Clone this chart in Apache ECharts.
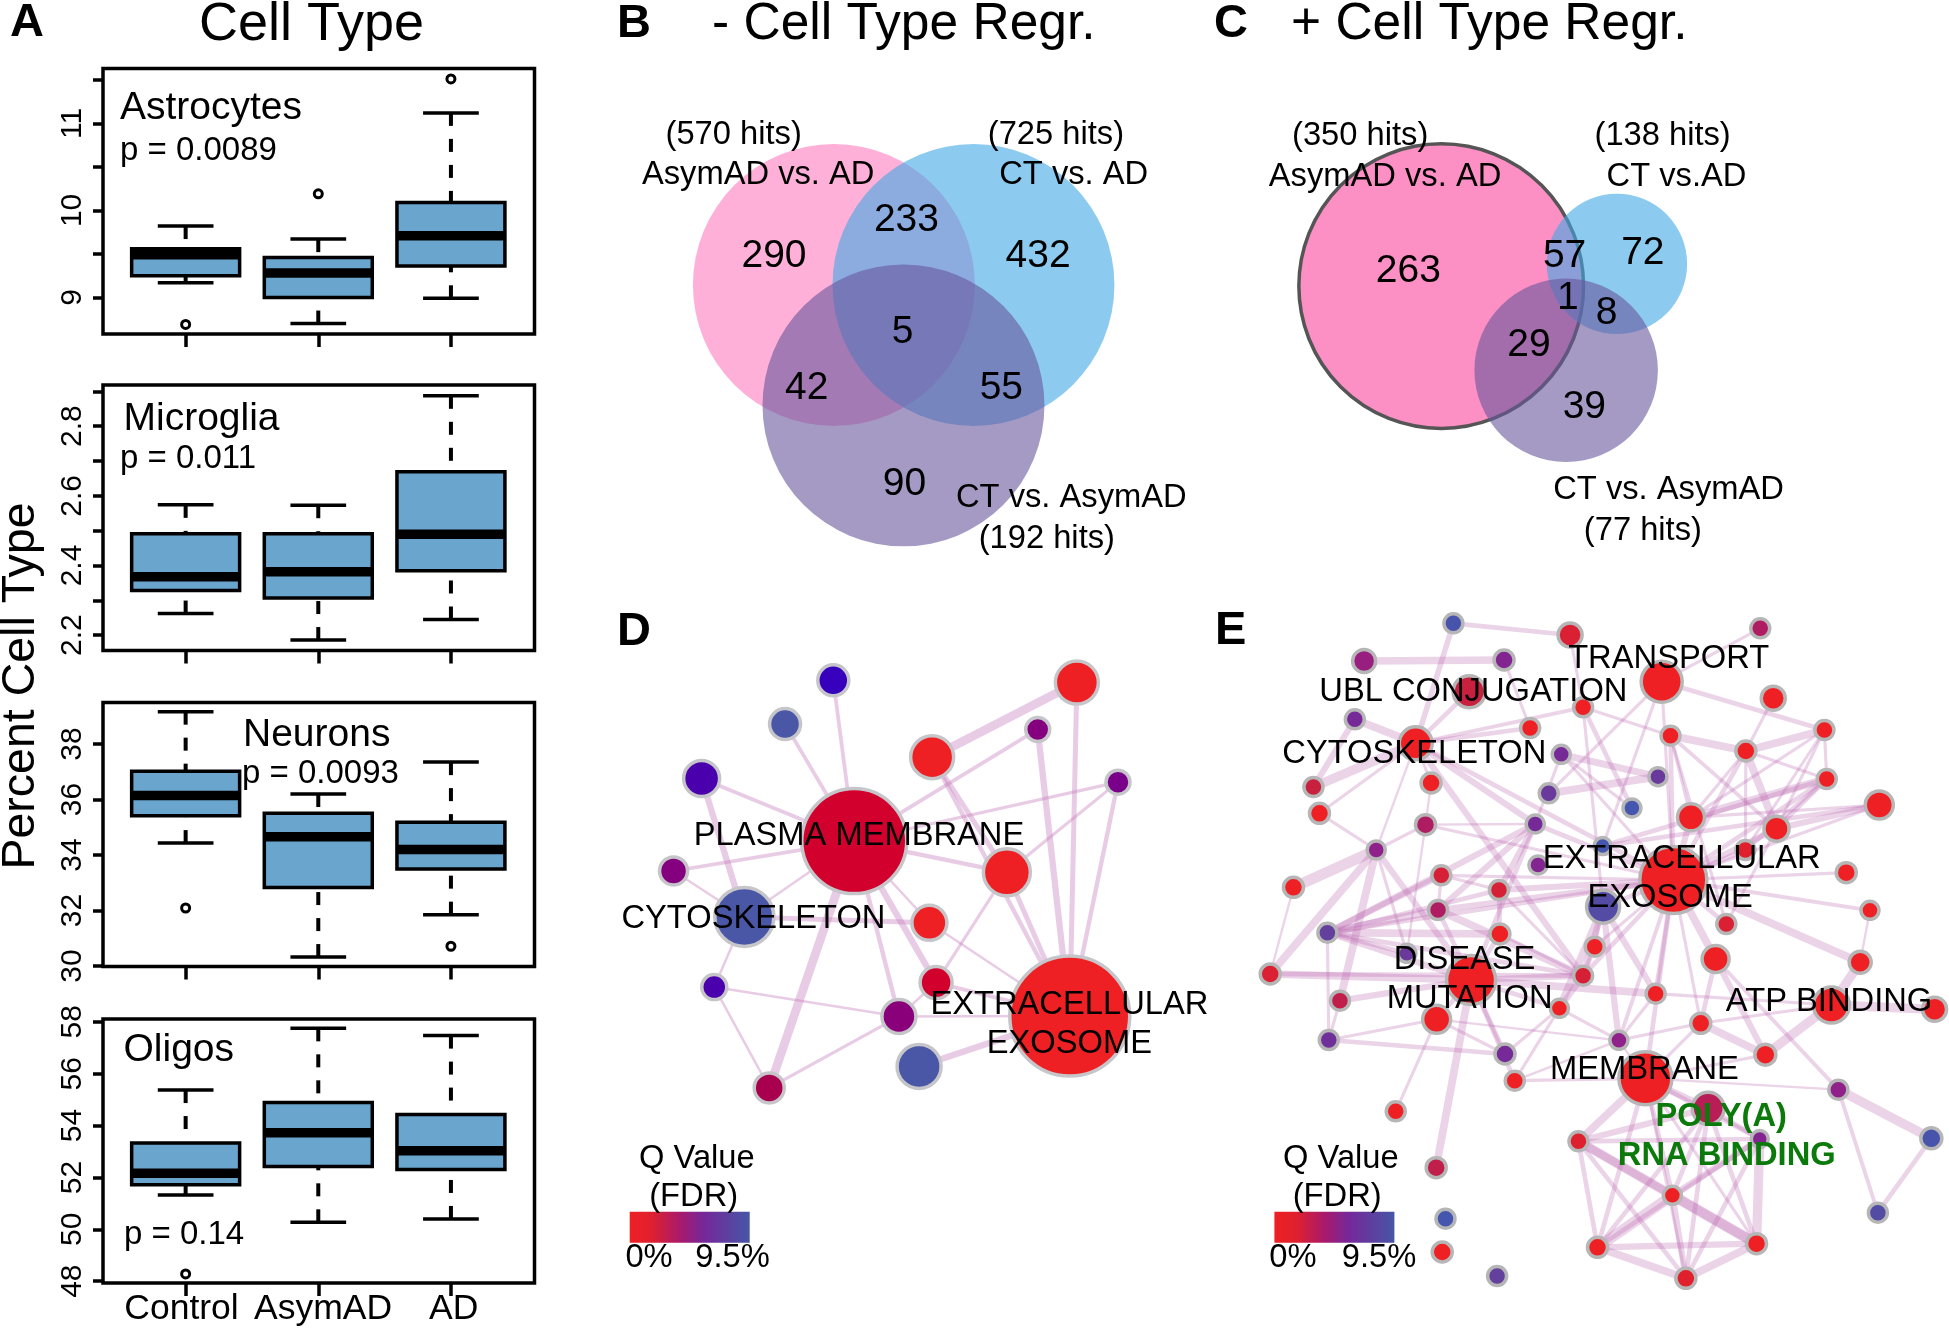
<!DOCTYPE html>
<html>
<head>
<meta charset="utf-8">
<title>Cell type regression</title>
<script src="https://cdn.jsdelivr.net/npm/echarts@6/dist/echarts.min.js"></script>
<style>
    body { margin: 0; background: #fff; }
    #chart { width: 1949px; height: 1328px; }
</style>
</head>
<body>
<div id="chart"></div>
<script>
// panel A: [whisker low, q1, median, q3, whisker high] for Control, AsymAD, AD
const categories = ['Control', 'AsymAD', 'AD'];
const astrocytes = [[9.17, 9.25, 9.49, 9.56, 9.82], [8.70, 9.00, 9.28, 9.46, 9.67], [8.99, 9.36, 9.71, 10.09, 11.12]];
const astrocytesOut = [[1, 8.69], [2, 10.19], [3, 11.51]];
const microglia = [[2.262, 2.328, 2.368, 2.491, 2.574], [2.186, 2.307, 2.382, 2.491, 2.573], [2.245, 2.385, 2.49, 2.669, 2.887]];
const microgliaOut = [];
const neurons = [[34.43, 35.42, 36.15, 37.02, 39.17], [30.32, 32.83, 34.66, 35.51, 36.2], [31.85, 33.5, 34.2, 35.18, 37.35]];
const neuronsOut = [[1, 32.09], [3, 30.71]];
const oligos = [[51.32, 51.72, 52.16, 53.33, 55.37], [50.27, 52.42, 53.72, 54.89, 57.75], [50.4, 52.31, 53.03, 54.43, 57.47]];
const oligosOut = [[1, 48.28]];
const astrocytesTicks = [9, 9.5, 10, 10.5, 11, 11.5];
const astrocytesLabels = [9, 10, 11];
const microgliaTicks = [2.2, 2.3, 2.4, 2.5, 2.6, 2.7, 2.8, 2.9];
const microgliaLabels = [2.2, 2.4, 2.6, 2.8];
const neuronsTicks = [30, 32, 34, 36, 38];
const oligosTicks = [48, 50, 52, 54, 56, 58];

// venn diagrams, in layout units of each panel
const vennBX = [591.5, 944.5, 767.5];
const vennBY = [770.5, 770.5, 1096];
const vennBR = [356.5, 356.5, 356.5];
const vennCX = [610, 1054.5, 926];
const vennCY = [773.5, 713.5, 1001];
const vennCR = [360, 177.5, 232];
const vennBText = ['(570 hits)', 'AsymAD vs. AD', '(725 hits)', 'CT vs. AD', '290', '233', '432', '5', '42', '55', '90', 'CT vs. AsymAD', '(192 hits)'];
const vennBTextX = [338, 400, 1153, 1198, 440, 775, 1108, 765, 523, 1015, 770, 1192, 1130];
const vennBTextY = [360, 468, 360, 468, 687, 590, 687, 893, 1045, 1045, 1303, 1342, 1453];
const vennCText = ['(350 hits)', 'AsymAD vs. AD', '(138 hits)', 'CT vs.AD', '263', '57', '72', '1', '8', '29', '39', 'CT vs. AsymAD', '(77 hits)'];
const vennCTextX = [405, 468, 1170, 1205, 527, 922, 1120, 930, 1028, 832, 972, 1185, 1120];
const vennCTextY = [363, 472, 363, 472, 727, 688, 680, 800, 842, 927, 1095, 1320, 1430];

// network D
const nodeDX = [643, 1188, 365, 590, 468, 257, 186, 289, 428, 756, 807, 850, 833, 1029, 840, 1206, 1107, 1310];
const nodeDY = [540, 932, 710, 180, 278, 400, 607, 867, 1093, 933, 1045, 857, 723, 610, 352, 185, 290, 408];
const nodeDSize = [105, 120, 59, 31, 31, 36, 28, 25, 30, 34, 44, 32, 35, 47, 43, 43, 24, 24];
const nodeDQ = [1.5, 0, 9.5, 8, 9.5, 7, 5.5, 7, 3.5, 5.3, 9.5, 1.5, 0, 0, 0, 0, 5.5, 5.8];
const edgesD = [[0, 3, 3], [0, 4, 3], [0, 5, 3], [0, 6, 3], [5, 2, 5], [6, 2, 2], [0, 2, 2], [2, 12, 4], [2, 7, 2], [7, 8, 2], [7, 9, 2],
    [8, 0, 7], [8, 9, 2.5], [0, 9, 3.5], [0, 11, 5], [0, 12, 2], [0, 13, 3.5], [0, 16, 3], [0, 17, 2.5], [14, 15, 7], [14, 13, 4], [13, 17, 2.5],
    [13, 1, 4], [14, 1, 3.5], [13, 11, 2.5], [12, 1, 2], [11, 1, 3], [9, 1, 2], [9, 11, 2], [10, 1, 5], [16, 1, 5], [15, 1, 4], [17, 1, 3.5]];
const labelsD = ['PLASMA MEMBRANE', 'CYTOSKELETON', 'EXTRACELLULAR', 'EXOSOME', 'Q Value', '(FDR)', '0%', '9.5%'];
const labelsDX = [655, 388, 1187, 1187, 245, 237, 124, 335];
const labelsDY = [525, 710, 902, 990, 1247, 1332, 1470, 1470];

// network E
const nodeEX = [502, 753, 1162, 310, 611, 950, 536, 1190, 781, 290,
    667, 969, 1300, 421, 734, 1131, 454, 942, 1305, 201,
    707, 214, 886, 1418, 1013, 678, 442, 1197, 336, 823,
    1130, 1347, 684, 975, 158, 476, 600, 824, 469, 1398,
    1089, 231, 602, 806, 402, 1066, 1377, 108, 781, 540,
    258, 937, 730, 466, 1315, 1537, 1034, 234, 858, 613,
    1173, 634, 915, 1330, 1050, 378, 771, 1161, 1530, 465,
    973, 485, 1415, 812, 1154, 478, 1002, 596];
const nodeEY = [70, 105, 85, 183, 180, 245, 275, 295, 322, 358,
    384, 407, 390, 430, 463, 453, 549, 530, 537, 561,
    580, 640, 624, 615, 652, 672, 674, 686, 750, 738,
    750, 818, 795, 840, 862, 826, 870, 920, 930, 931,
    972, 998, 1002, 1040, 1060, 1077, 1087, 1122, 1127, 1140,
    1202, 1181, 1225, 1258, 1215, 1228, 1270, 1320, 1321, 1362,
    1364, 1442, 1435, 1469, 1525, 1534, 1624, 1617, 1615, 1703,
    1786, 1856, 1838, 1942, 1931, 1956, 2035, 2028];
const nodeESize = [19, 24, 19, 23, 20, 41, 32, 24, 19, 19,
    19, 19, 19, 33, 18, 20, 20, 18, 19, 19,
    19, 20, 18, 28, 27, 18, 20, 25, 18, 17,
    19, 20, 18, 67, 20, 19, 19, 33, 19, 18,
    19, 19, 20, 19, 18, 27, 22, 20, 19, 49,
    19, 19, 18, 28, 36, 24, 20, 19, 18, 20,
    21, 19, 53, 19, 32, 19, 19, 17, 21, 20,
    18, 19, 19, 20, 20, 20, 20, 19];
const nodeEQ = [9.3, 0.8, 3, 4.5, 5.5, 0, 1.5, 0, 0, 6,
    0, 0, 0, 0, 6, 0, 0, 7, 0, 1.5,
    7, 0, 9.5, 0, 0, 6, 3, 0, 5, 9.5,
    0.5, 0, 5.5, 0, 0, 1, 1, 8.5, 3, 0,
    0.8, 7.5, 0, 0, 7, 0, 0, 0.8, 1, 0,
    2, 0, 0, 0, 0, 0, 0, 6.5, 5, 6,
    0, 0, 0, 5, 2.5, 0, 0.6, 5.5, 9.3, 2,
    0, 9.5, 8.5, 0, 0, 0, 0.5, 7.5];
const edgesE = [[0, 1, 3], [0, 13, 3.5], [3, 4, 5], [4, 10, 2], [6, 13, 3], [2, 5, 2], [1, 8, 2], [5, 12, 3], [7, 15, 2], [12, 15, 5], [11, 15, 5],
    [9, 13, 5], [9, 19, 4], [13, 19, 6], [13, 10, 3], [13, 8, 2.5], [13, 21, 2], [13, 16, 2], [21, 28, 2], [28, 34, 7], [28, 47, 5], [28, 26, 2],
    [28, 50, 5], [28, 44, 2], [28, 49, 4], [13, 28, 1.5], [13, 25, 4], [13, 48, 4], [13, 33, 3], [16, 26, 1.5], [26, 44, 1.5], [26, 25, 1.5], [26, 33, 2],
    [14, 17, 4.5], [20, 17, 5], [14, 25, 2], [14, 22, 2], [14, 33, 2], [5, 20, 2], [5, 29, 2], [5, 33, 2], [8, 22, 3], [8, 37, 2], [8, 11, 2],
    [11, 33, 3], [11, 24, 2], [11, 27, 2.5], [11, 40, 2], [15, 24, 2], [15, 27, 5], [15, 33, 3], [15, 18, 2], [15, 30, 2], [12, 24, 2], [12, 27, 2],
    [12, 30, 2], [12, 18, 2], [18, 24, 5], [18, 27, 3], [18, 33, 3], [18, 29, 3], [18, 30, 3], [23, 29, 3], [23, 33, 2], [23, 27, 4], [23, 24, 2],
    [24, 33, 4], [27, 33, 4], [27, 40, 2], [30, 33, 3], [31, 33, 2], [39, 33, 2.5], [46, 33, 5], [40, 33, 3], [45, 33, 5],
    [25, 41, 4], [25, 38, 4], [25, 36, 4], [25, 33, 3], [25, 49, 3], [35, 41, 4], [35, 33, 2], [36, 33, 4], [36, 41, 3], [38, 33, 4], [38, 41, 5],
    [38, 48, 5], [38, 49, 3], [35, 36, 2], [35, 38, 2], [36, 42, 3], [36, 48, 2], [41, 42, 5], [41, 44, 3], [41, 48, 3], [41, 57, 2], [41, 33, 3],
    [41, 49, 4], [42, 48, 2], [42, 49, 3], [37, 48, 4], [37, 43, 2], [37, 52, 5], [37, 33, 3], [37, 58, 4], [37, 51, 4], [43, 33, 2], [43, 48, 3],
    [48, 49, 4], [48, 33, 3], [48, 52, 4], [47, 49, 5], [47, 34, 1.5], [47, 48, 3], [50, 49, 4], [50, 57, 2], [53, 57, 2], [57, 59, 3], [49, 53, 3],
    [49, 59, 3], [49, 51, 5], [49, 61, 3], [49, 69, 5], [53, 65, 2], [49, 52, 3], [52, 59, 2], [52, 61, 2], [52, 58, 2], [53, 58, 1.5], [59, 53, 2],
    [58, 51, 2], [58, 62, 1.5], [58, 33, 2.5], [61, 62, 2], [61, 58, 1.5], [56, 45, 3], [56, 60, 5], [56, 33, 2], [56, 54, 2], [56, 58, 2], [60, 45, 4],
    [60, 54, 6], [54, 46, 6], [55, 54, 6], [51, 54, 2], [45, 63, 2.5], [62, 56, 2], [62, 60, 2], [62, 63, 1.5], [63, 68, 6], [63, 72, 2.5], [68, 72, 3],
    [39, 46, 1.5], [62, 66, 5], [62, 64, 4], [62, 70, 3], [62, 73, 3], [62, 67, 3], [62, 74, 2], [62, 76, 2], [64, 66, 4], [64, 70, 3], [64, 73, 3],
    [64, 74, 3], [64, 76, 3], [64, 67, 3], [66, 67, 3], [66, 70, 5], [66, 73, 3], [66, 74, 6], [66, 76, 3], [67, 70, 4], [67, 73, 3], [67, 74, 6],
    [67, 76, 3], [70, 73, 7], [70, 74, 7], [70, 76, 4], [73, 74, 4], [73, 76, 5], [74, 76, 5], [33, 62, 3], [33, 51, 3]];
const labelsE = ['TRANSPORT', 'UBL CONJUGATION', 'CYTOSKELETON', 'EXTRACELLULAR', 'EXOSOME', 'DISEASE', 'MUTATION', 'ATP BINDING', 'MEMBRANE', 'Q Value', '(FDR)', '0%', '9.5%'];
const labelsEX = [965, 545, 418, 993, 968, 526, 537, 1310, 913, 260, 252, 157, 342];
const labelsEY = [170, 270, 457, 772, 888, 1073, 1192, 1200, 1405, 1670, 1785, 1968, 1968];
const greenLabels = ['POLY(A)', 'RNA BINDING'];
const greenLabelsX = [1078, 1090];
const greenLabelsY = [1545, 1663];

const FONT = '"Liberation Sans", Arial, sans-serif';
const INK = '#000';

// q value -> colour, piecewise over [q, rgb] stops
const stopsD = [[0, [238, 32, 36]], [1.5, [210, 0, 44]], [3.5, [168, 0, 79]], [5.5, [133, 0, 127]], [7, [75, 0, 173]], [8, [55, 0, 189]], [9.5, [74, 87, 166]]];
const stopsE = [[0, [238, 32, 36]], [1.5, [200, 32, 63]], [3, [176, 28, 98]], [5, [144, 32, 138]], [6, [117, 42, 152]], [7.5, [99, 64, 156]], [9.5, [69, 86, 174]]];
function qColor(q, stops) {
    for (let i = 1; i < stops.length; i++) {
        if (q <= stops[i][0]) {
            const t = (q - stops[i - 1][0]) / (stops[i][0] - stops[i - 1][0]);
            const c = stops[i - 1][1].map((v, k) => Math.round(v + (stops[i][1][k] - v) * t));
            return `rgb(${c.join(',')})`;
        }
    }
    return `rgb(${stops[stops.length - 1][1].join(',')})`;
}

const grids = [
    { left: 103, top: 68.5, width: 431.5, height: 265.5 },
    { left: 103, top: 385, width: 431.5, height: 265.5 },
    { left: 103, top: 702.5, width: 431.5, height: 264 },
    { left: 103, top: 1019, width: 431.5, height: 264 },
    { left: 600, top: 0, width: 620, height: 580 },
    { left: 1200, top: 0, width: 620, height: 580 },
    { left: 600, top: 600, width: 620, height: 700 },
    { left: 1220, top: 600, width: 729, height: 728 },
].map(g => Object.assign({ show: false, containLabel: false }, g));
for (let i = 0; i < 4; i++) {
    Object.assign(grids[i], { show: true, borderColor: INK, borderWidth: 3.5, backgroundColor: 'transparent' });
}

function boxAxes(i, ymin, ymax, ticks, labels) {
    const xAxis = {
        type: 'value', gridIndex: i, min: 0.377, max: 3.63,
        splitLine: { show: false }, axisLine: { show: false },
        axisTick: { show: true, customValues: [1, 2, 3], length: 13, lineStyle: { width: 3.5, color: INK } },
        axisLabel: { show: false },
    };
    const yAxis = {
        type: 'value', gridIndex: i, min: ymin, max: ymax,
        splitLine: { show: false }, axisLine: { show: false },
        axisTick: { show: true, customValues: ticks, length: 10, lineStyle: { width: 3.5, color: INK } },
        axisLabel: {
            show: true, customValues: labels, rotate: 90, margin: 15,
            fontFamily: FONT, fontSize: 30, color: INK,
        },
    };
    return { xAxis, yAxis };
}
function layoutAxes(i, xmax, ymax) {
    return {
        xAxis: { type: 'value', gridIndex: i, show: false, min: 0, max: xmax },
        yAxis: { type: 'value', gridIndex: i, show: false, min: 0, max: ymax, inverse: true },
    };
}
const axes = [
    boxAxes(0, 8.58, 11.63, astrocytesTicks, astrocytesLabels),
    boxAxes(1, 2.156, 2.918, microgliaTicks, microgliaLabels),
    boxAxes(2, 29.98, 39.5, neuronsTicks, neuronsTicks),
    boxAxes(3, 47.93, 58.11, oligosTicks, oligosTicks),
    layoutAxes(4, 1568, 1568),
    layoutAxes(5, 1568, 1568),
    layoutAxes(6, 1568, 1568),
    layoutAxes(7, 1568, 2184),
];

function boxSeries(i, rows) {
    return {
        type: 'custom', xAxisIndex: i, yAxisIndex: i, z: 3,
        data: rows.map((r, k) => [k + 1].concat(r)),
        encode: { x: 0, y: [1, 2, 3, 4, 5] },
        renderItem(params, api) {
            const x = api.value(0);
            const pt = v => api.coord([x, v]);
            const half = api.size([0.407, 0])[0];
            const cap = api.size([0.21, 0])[0];
            const [cx, yLow] = pt(api.value(1));
            const yQ1 = pt(api.value(2))[1];
            const yMed = pt(api.value(3))[1];
            const yQ3 = pt(api.value(4))[1];
            const yHigh = pt(api.value(5))[1];
            const line = (x1, y1, x2, y2, style) => ({
                type: 'line', shape: { x1, y1, x2, y2 },
                style: Object.assign({ stroke: INK, lineWidth: 3.5, fill: null }, style),
            });
            return {
                type: 'group',
                children: [
                    line(cx, yLow, cx, yQ1, { lineDash: [13, 13], lineWidth: 4 }),
                    line(cx, yHigh, cx, yQ3, { lineDash: [13, 13], lineWidth: 4 }),
                    line(cx - cap, yLow, cx + cap, yLow),
                    line(cx - cap, yHigh, cx + cap, yHigh),
                    {
                        type: 'rect',
                        shape: { x: cx - half, y: yQ3, width: half * 2, height: yQ1 - yQ3 },
                        style: { fill: '#6AA5CE', stroke: INK, lineWidth: 3.5 },
                    },
                    line(cx - half, yMed, cx + half, yMed, { lineWidth: 9.5 }),
                ],
            };
        },
    };
}
function outlierSeries(i, rows) {
    return {
        type: 'scatter', xAxisIndex: i, yAxisIndex: i, z: 3, data: rows,
        symbolSize: 8,
        itemStyle: { color: '#fff', borderColor: INK, borderWidth: 3, opacity: 1 },
    };
}
function vennSeries(i, xs, ys, rs, fills, stroke) {
    return {
        type: 'custom', xAxisIndex: i, yAxisIndex: i, z: 1,
        data: xs.map((x, k) => [x, ys[k], rs[k]]),
        encode: { x: 0, y: 1 },
        renderItem(params, api) {
            const c = api.coord([api.value(0), api.value(1)]);
            const r = api.size([api.value(2), 0])[0];
            const first = params.dataIndex === 0 && stroke;
            return {
                type: 'circle',
                shape: { cx: c[0], cy: c[1], r },
                style: { fill: fills[params.dataIndex], stroke: first ? stroke : null, lineWidth: first ? 3.5 : 0 },
            };
        },
    };
}
function textSeries(i, names, xs, ys, fontSize, extra) {
    return {
        type: 'scatter', xAxisIndex: i, yAxisIndex: i, z: 6, silent: true,
        symbolSize: 1,
        itemStyle: { color: 'transparent', opacity: 1 },
        data: names.map((name, k) => ({ name, value: [xs[k], ys[k]] })),
        label: Object.assign({
            show: true, position: 'inside', formatter: '{b}', align: 'center', verticalAlign: 'middle',
            fontFamily: FONT, fontSize, color: INK, offset: [0, 2], opacity: 1,
        }, extra || {}),
    };
}
function edgeSeries(i, edges, xs, ys, color, scale) {
    return {
        type: 'custom', xAxisIndex: i, yAxisIndex: i, z: 2, silent: true,
        data: edges.map(e => [xs[e[0]], ys[e[0]], xs[e[1]], ys[e[1]], e[2]]),
        encode: { x: [0, 2], y: [1, 3] },
        renderItem(params, api) {
            const a = api.coord([api.value(0), api.value(1)]);
            const b = api.coord([api.value(2), api.value(3)]);
            return {
                type: 'line',
                shape: { x1: a[0], y1: a[1], x2: b[0], y2: b[1] },
                style: { stroke: color, lineWidth: api.value(4) * scale, fill: null },
            };
        },
    };
}
function nodeSeries(i, xs, ys, sizes, qs, stops, border) {
    return {
        type: 'scatter', xAxisIndex: i, yAxisIndex: i, z: 4,
        symbolSize: v => v[2],
        data: xs.map((x, k) => ({
            value: [x, ys[k], sizes[k]],
            itemStyle: { color: qColor(qs[k], stops) },
        })),
        itemStyle: { borderColor: border, borderWidth: 3.5, opacity: 1 },
    };
}

const VENN_B = ['rgba(255,97,177,0.5)', 'rgba(63,168,228,0.6)', 'rgba(103,87,157,0.6)'];
const VENN_C = ['rgba(250,40,140,0.52)', 'rgba(63,168,228,0.6)', 'rgba(103,87,157,0.6)'];

const series = [
    boxSeries(0, astrocytes), outlierSeries(0, astrocytesOut),
    boxSeries(1, microglia), outlierSeries(1, microgliaOut),
    boxSeries(2, neurons), outlierSeries(2, neuronsOut),
    boxSeries(3, oligos), outlierSeries(3, oligosOut),
    vennSeries(4, vennBX, vennBY, vennBR, VENN_B),
    textSeries(4, vennBText.slice(0, 4), vennBTextX, vennBTextY, 32.7),
    textSeries(4, vennBText.slice(4, 11), vennBTextX.slice(4), vennBTextY.slice(4), 39),
    textSeries(4, vennBText.slice(11), vennBTextX.slice(11), vennBTextY.slice(11), 32.7),
    vennSeries(5, vennCX, vennCY, vennCR, VENN_C, '#555'),
    textSeries(5, vennCText.slice(0, 4), vennCTextX, vennCTextY, 32.7),
    textSeries(5, vennCText.slice(4, 11), vennCTextX.slice(4), vennCTextY.slice(4), 39),
    textSeries(5, vennCText.slice(11), vennCTextX.slice(11), vennCTextY.slice(11), 32.7),
    edgeSeries(6, edgesD, nodeDX, nodeDY, 'rgba(200,130,190,0.42)', 1.25),
    nodeSeries(6, nodeDX, nodeDY, nodeDSize, nodeDQ, stopsD, '#c6c6ca'),
    textSeries(6, labelsD, labelsDX, labelsDY, 32.7),
    edgeSeries(7, edgesE, nodeEX, nodeEY, 'rgba(190,110,180,0.3)', 1.55),
    nodeSeries(7, nodeEX, nodeEY, nodeESize, nodeEQ, stopsE, '#b6b6b6'),
    textSeries(7, labelsE, labelsEX, labelsEY, 32.7),
    textSeries(7, greenLabels, greenLabelsX, greenLabelsY, 32.7, { color: '#0b7a0b', fontWeight: 'bold' }),
];

function txt(text, x, y, size, opts) {
    const o = opts || {};
    return {
        type: 'text', x, y, rotation: o.rotation || 0, z: 20, silent: true,
        style: {
            text, fill: INK, align: o.align || 'left', verticalAlign: 'middle',
            font: `${o.bold ? 'bold ' : ''}${size}px ${FONT}`,
        },
    };
}
function colorBar(x, y) {
    return {
        type: 'rect', x, y, z: 5, silent: true,
        shape: { width: 120, height: 31 },
        style: {
            fill: new echarts.graphic.LinearGradient(0, 0, 1, 0, [
                { offset: 0, color: '#EE2024' },
                { offset: 0.18, color: '#E0202E' },
                { offset: 0.42, color: '#A81A6C' },
                { offset: 0.62, color: '#75289A' },
                { offset: 1, color: '#4656A6' },
            ]),
        },
    };
}
const graphic = [
    txt('A', 10, 23, 47, { bold: true }),
    txt('Cell Type', 311.6, 25, 54, { align: 'center' }),
    txt('B', 617, 24, 47, { bold: true }),
    txt('- Cell Type Regr.', 712, 25, 51.5),
    txt('C', 1214, 24, 47, { bold: true }),
    txt('+ Cell Type Regr.', 1291, 25, 51.5),
    txt('D', 617, 632, 47, { bold: true }),
    txt('E', 1215, 631, 47, { bold: true }),
    txt('Percent Cell Type', 21, 686, 46.5, { align: 'center', rotation: Math.PI / 2 }),
    txt('Astrocytes', 120, 108, 39),
    txt('p = 0.0089', 120, 151, 33),
    txt('Microglia', 123.5, 419, 39),
    txt('p = 0.011', 120, 459, 33),
    txt('Neurons', 243, 735, 39),
    txt('p = 0.0093', 242, 774, 33),
    txt('Oligos', 123.5, 1050, 39),
    txt('p = 0.14', 124, 1235, 33),
    txt(categories[0], 181.5, 1309, 35.5, { align: 'center' }),
    txt(categories[1], 323, 1309, 35.5, { align: 'center' }),
    txt(categories[2], 453.7, 1309, 35.5, { align: 'center' }),
    colorBar(629.7, 1211.7),
    colorBar(1274.4, 1211.7),
];

const chart = echarts.init(document.getElementById('chart'), null, { renderer: 'canvas' });
chart.setOption({
    backgroundColor: '#fff',
    animation: false,
    tooltip: { show: false },
    grid: grids,
    xAxis: axes.map(a => a.xAxis),
    yAxis: axes.map(a => a.yAxis),
    series,
    graphic,
});
</script>
</body>
</html>
